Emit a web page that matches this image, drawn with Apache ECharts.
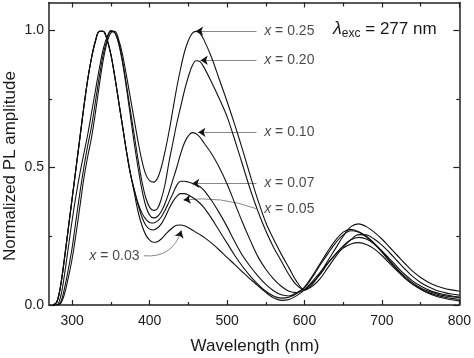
<!DOCTYPE html>
<html><head><meta charset="utf-8">
<script src="https://cdn.jsdelivr.net/npm/echarts@6/dist/echarts.min.js"></script>
<style>html,body{margin:0;padding:0;background:#fff}#c{width:474px;height:358px}</style>
</head><body><div id="c"></div>
<script>
// Wavelength samples (nm)
const wavelengths = [275,280,285,290,295,300,305,310,315,320,325,330,335,340,345,350,355,360,365,370,375,380,385,390,395,400,405,410,415,420,425,430,435,440,445,450,455,460,465,470,
480,490,500,510,520,530,540,550,560,570,580,590,600,610,620,630,640,650,660,670,680,690,700,710,720,730,740,750,760,770,780,790,800];

const s025 = [0,0,0.005,0.04,0.10,0.17,0.26,0.36,0.46,0.54,0.61,0.70,0.80,0.89,0.955,0.99,0.995,0.965,0.91,0.835,0.755,0.675,0.595,0.525,0.475,0.452,0.447,0.46,0.50,0.56,0.63,0.71,0.79,0.86,0.92,0.962,0.988,0.995,0.988,0.965,
0.90,0.82,0.74,0.655,0.565,0.47,0.38,0.30,0.24,0.185,0.135,0.085,0.055,0.068,0.095,0.135,0.175,0.21,0.238,0.256,0.255,0.24,0.218,0.19,0.16,0.13,0.103,0.082,0.066,0.054,0.046,0.04,0.036];

const s020 = [0,0,0.01,0.06,0.13,0.21,0.31,0.41,0.50,0.58,0.65,0.74,0.83,0.91,0.965,0.995,0.99,0.955,0.89,0.80,0.71,0.62,0.53,0.45,0.39,0.355,0.344,0.35,0.385,0.44,0.52,0.59,0.66,0.72,0.78,0.83,0.87,0.888,0.885,0.865,
0.81,0.75,0.685,0.60,0.51,0.42,0.34,0.27,0.21,0.16,0.11,0.072,0.055,0.075,0.115,0.16,0.205,0.25,0.285,0.295,0.285,0.265,0.24,0.21,0.18,0.15,0.122,0.10,0.083,0.07,0.061,0.055,0.05];

const s010 = [0,0,0.03,0.11,0.21,0.31,0.40,0.48,0.55,0.62,0.70,0.78,0.86,0.93,0.975,0.998,0.99,0.95,0.88,0.79,0.69,0.59,0.50,0.42,0.36,0.327,0.317,0.322,0.34,0.37,0.41,0.455,0.50,0.55,0.59,0.615,0.627,0.623,0.61,0.59,
0.55,0.50,0.44,0.37,0.30,0.235,0.175,0.13,0.095,0.068,0.05,0.045,0.055,0.08,0.11,0.15,0.185,0.215,0.237,0.246,0.24,0.222,0.197,0.168,0.138,0.11,0.087,0.069,0.055,0.045,0.038,0.033,0.029];

const s007 = [0,0.01,0.07,0.17,0.28,0.39,0.50,0.61,0.72,0.82,0.90,0.96,0.995,0.995,0.965,0.91,0.83,0.74,0.65,0.56,0.48,0.42,0.37,0.335,0.312,0.30,0.298,0.305,0.32,0.345,0.375,0.405,0.435,0.45,0.45,0.447,0.442,0.436,0.43,0.418,
0.38,0.335,0.285,0.23,0.18,0.14,0.105,0.075,0.052,0.037,0.033,0.045,0.062,0.10,0.145,0.185,0.225,0.255,0.27,0.265,0.25,0.225,0.195,0.162,0.13,0.102,0.08,0.062,0.05,0.041,0.034,0.03,0.027];

const s005 = [0,0.01,0.07,0.17,0.28,0.39,0.50,0.61,0.72,0.82,0.90,0.96,0.995,0.995,0.965,0.91,0.83,0.74,0.65,0.56,0.48,0.42,0.365,0.32,0.29,0.276,0.273,0.28,0.295,0.32,0.35,0.376,0.395,0.405,0.405,0.40,0.392,0.382,0.37,0.355,
0.315,0.27,0.225,0.18,0.14,0.105,0.075,0.05,0.033,0.025,0.028,0.042,0.065,0.105,0.15,0.195,0.235,0.265,0.275,0.266,0.247,0.222,0.192,0.158,0.127,0.098,0.075,0.058,0.045,0.036,0.029,0.024,0.021];

const s003 = [0,0.01,0.07,0.17,0.28,0.39,0.50,0.61,0.72,0.82,0.90,0.96,0.995,0.995,0.965,0.91,0.83,0.74,0.65,0.56,0.48,0.41,0.34,0.29,0.255,0.236,0.228,0.23,0.24,0.255,0.27,0.282,0.29,0.291,0.288,0.281,0.273,0.264,0.256,0.247,
0.225,0.20,0.173,0.147,0.12,0.094,0.07,0.046,0.026,0.017,0.02,0.034,0.055,0.085,0.118,0.152,0.183,0.207,0.222,0.227,0.22,0.204,0.18,0.151,0.123,0.097,0.075,0.057,0.043,0.032,0.025,0.019,0.015];

const seriesNames = ['x = 0.25','x = 0.20','x = 0.10','x = 0.07','x = 0.05','x = 0.03'];
const seriesValues = [s025, s020, s010, s007, s005, s003];

// Annotation labels (value text) and their anchor points in data units
const labelValues = ['0.25','0.20','0.10','0.07','0.05','0.03'];
const labelAnchors = [[548,0.996],[548,0.89],[548,0.628],[548,0.442],[548,0.35],[322,0.179]];
// Leader lines: start (near label) -> arrow tip (on curve)
const leaderStarts = [[538,0.996],[538,0.89],[538,0.628],[538,0.442],[538,0.35],[392.6,0.179]];
const leaderEnds   = [[460,0.996],[466,0.89],[463,0.628],[455,0.442],[444,0.382],[440.8,0.27]];
const leaderCurve  = [0,0,0,0,-0.12,-0.4];

const xMajor = [300,400,500,600,700,800];
const xMinor = [350,450,550,650,750];
const yMajor = [0,0.5,1.0];
const yMinor = [0.25,0.75];

const FONT = 'Liberation Sans, Arial, Helvetica, sans-serif';
const INK = '#1a1a1a';

const chart = echarts.init(document.getElementById('c'), null, {renderer:'canvas'});

function xAx(pos, ticks, len, showLine, showLabel){
  return {type:'value', min:270, max:800, position:pos,
    axisLine:{show:showLine, onZero:false, lineStyle:{color:'#222', width:1.5}},
    axisTick:{show:true, inside:true, length:len, customValues:ticks, lineStyle:{color:'#222', width:1.2}},
    axisLabel:{show:showLabel, customValues:ticks, fontSize:14, color:INK, fontFamily:FONT, margin:9},
    splitLine:{show:false}};
}
function yAx(pos, ticks, len, showLine, showLabel){
  return {type:'value', min:0, max:1.1, position:pos,
    axisLine:{show:showLine, onZero:false, lineStyle:{color:'#222', width:1.5}},
    axisTick:{show:true, inside:true, length:len, customValues:ticks, lineStyle:{color:'#222', width:1.2}},
    axisLabel:{show:showLabel, customValues:ticks, fontSize:14, color:INK, fontFamily:FONT, margin:5,
      formatter:v=>v.toFixed(1)},
    splitLine:{show:false}};
}

const series = seriesValues.map((arr,k)=>({
  name: seriesNames[k], type:'line', xAxisIndex:0, yAxisIndex:0,
  data: wavelengths.map((w,i)=>[w, arr[i]]),
  showSymbol:false, smooth:0.35, silent:true,
  lineStyle:{color:'#111', width:1.1}
}));

// gray leader lines
series.push({
  id:'leaders', type:'lines', coordinateSystem:'cartesian2d', xAxisIndex:0, yAxisIndex:0, silent:true,
  symbol:['none','none'],
  data: leaderStarts.map((s,i)=>({coords:[s, leaderEnds[i]], lineStyle:{curveness:leaderCurve[i]}})),
  lineStyle:{color:'#7a7a7a', width:0.9, opacity:1}
});

series.push({
  type:'scatter', xAxisIndex:0, yAxisIndex:0, silent:true, symbolSize:0,
  data: labelAnchors.map((p,i)=>({value:p, label:{formatter:'{i|x} = '+labelValues[i]}})),
  label:{show:true, position:'right', distance:0, color:INK, fontSize:14, fontFamily:FONT,
    rich:{i:{fontStyle:'italic', fontSize:14, fontFamily:FONT, color:INK}}}
});

chart.setOption({
  animation:false,
  backgroundColor:'#fff',
  grid:{left:49, right:12, top:2.5, bottom:53, containLabel:false},
  xAxis:[
    xAx('bottom', xMajor, 5, true, true),
    xAx('bottom', xMinor, 3, false, false),
    xAx('top', xMajor, 5, true, false),
    xAx('top', xMinor, 4, false, false)
  ],
  yAxis:[
    yAx('left', yMajor, 6, true, true),
    yAx('left', yMinor, 3, false, false),
    yAx('right', yMajor, 6, true, false),
    yAx('right', yMinor, 3, false, false)
  ],
  series: series,
  graphic:[
    {type:'text', left:333, top:20, silent:true,
      style:{text:'{l|λ}{s|exc}{n| = 277 nm}', fill:INK, font:'17px '+FONT,
        rich:{l:{fontStyle:'italic', fontSize:18, fontFamily:FONT, fill:INK},
              s:{fontSize:12, fontFamily:FONT, fill:INK, padding:[9,0,0,0]},
              n:{fontSize:17, fontFamily:FONT, fill:INK}}}},
    {type:'text', x:255, y:346, silent:true,
      style:{text:'Wavelength (nm)', fill:INK, font:'17px '+FONT, align:'center', verticalAlign:'middle'}},
    {type:'text', x:10, y:166, rotation:Math.PI/2, silent:true,
      style:{text:'Normalized PL amplitude', fill:INK, font:'17px '+FONT, align:'center', verticalAlign:'middle'}}
  ]
});

// black arrowheads at the leader tips, aligned with each leader's end tangent
const arrowData = leaderStarts.map((s,i)=>{
  const p1 = chart.convertToPixel({gridIndex:0}, s);
  const p2 = chart.convertToPixel({gridIndex:0}, leaderEnds[i]);
  const c = leaderCurve[i];
  const cp = [(p1[0]+p2[0])/2 - (p1[1]-p2[1])*c, (p1[1]+p2[1])/2 - (p2[0]-p1[0])*c];
  let dx = p2[0]-cp[0], dy = p2[1]-cp[1];
  const L = Math.hypot(dx,dy) || 1;
  const back = [p2[0]-dx/L*3, p2[1]-dy/L*3];
  return {coords:[chart.convertFromPixel({gridIndex:0}, back), leaderEnds[i]]};
});
chart.setOption({series:[{id:'arrows', type:'lines', coordinateSystem:'cartesian2d', xAxisIndex:0, yAxisIndex:0,
  silent:true, symbol:['none','arrow'], symbolSize:[0,7], data:arrowData,
  lineStyle:{color:'#111', width:1, opacity:1}}]});
</script></body></html>
